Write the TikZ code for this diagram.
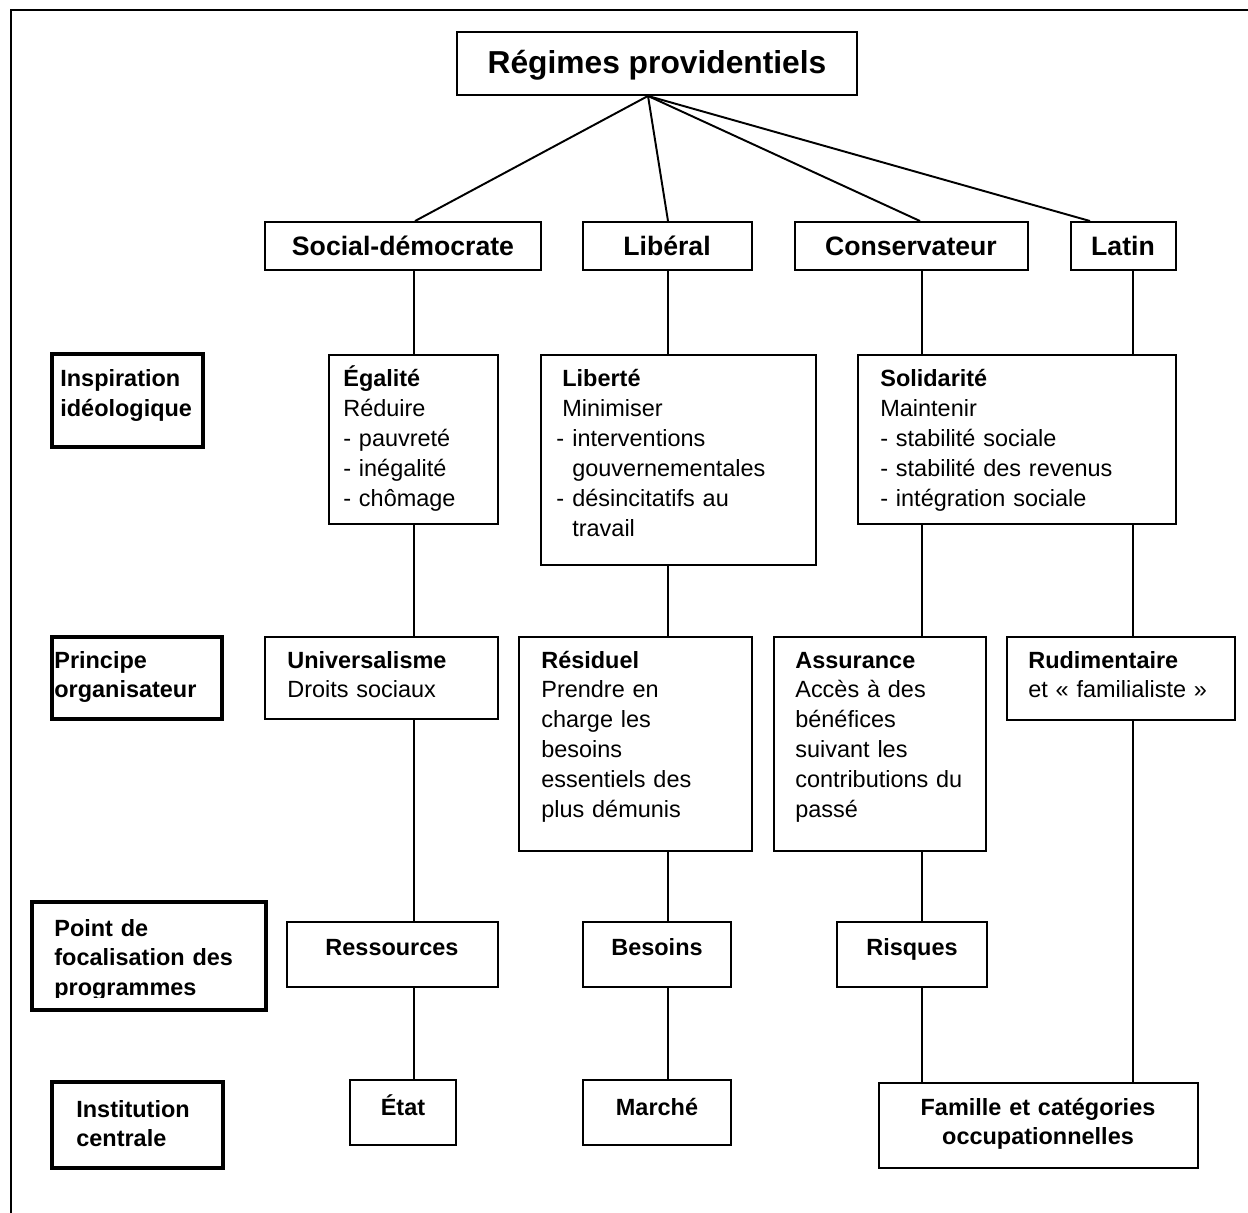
\documentclass[tikz,border=0pt]{standalone}
\usepackage{fontspec}
\setmainfont{Liberation Sans}
\usetikzlibrary{fit}
\newcommand\bodyfs{\fontsize{13.3pt}{17pt}\selectfont}
\begin{document}
\begin{tikzpicture}[x=0.5669pt,y=-0.5669pt,
  box/.style={draw, line width=1.1pt, inner sep=0pt},
  labbox/.style={draw, line width=2.3pt, inner sep=0pt},
  conn/.style={line width=1.1pt},
  one/.style={inner sep=0pt, anchor=base, font=\bodyfs\bfseries},
  head/.style={inner sep=0pt, anchor=base, font=\fontsize{15.1pt}{19pt}\selectfont\bfseries},
  multi/.style={inner sep=0pt, anchor=base west, text width=300pt, align=left, font=\bodyfs},
  labtxt/.style={inner sep=0pt, anchor=base west, text width=200pt, align=left, font=\bodyfs\bfseries}]
\useasboundingbox (0,0) rectangle (1248,1213);
\draw[line width=1.6pt] (11,1213) -- (11,10) -- (1248,10);

% column coordinates
\coordinate (hub) at (648,0);
\coordinate (f1) at (415,0);
\coordinate (f3) at (920,0);
\coordinate (f4) at (1090,0);
\coordinate (c1) at (414,0);
\coordinate (c2) at (668,0);
\coordinate (c3) at (922,0);
\coordinate (c4) at (1133,0);

% title
\node[box, fit={(457,32) (857,95)}] (title) {};
\node[inner sep=0pt, anchor=base, font=\fontsize{18pt}{22pt}\selectfont\bfseries] (title-t) at (657,74) {Régimes providentiels};

% row 1
\node[box, fit={(265,222) (541,270)}] (sd) {};
\node[head] (sd-t) at (403,256) {Social-démocrate};
\node[box, fit={(583,222) (752,270)}] (lib) {};
\node[head] (lib-t) at (667,256) {Libéral};
\node[box, fit={(795,222) (1028,270)}] (cons) {};
\node[head] (cons-t) at (911,256) {Conservateur};
\node[box, fit={(1071,222) (1176,270)}] (lat) {};
\node[head] (lat-t) at (1123,256) {Latin};

% left labels
\node[labbox, fit={(52,354) (203,447)}] (l1) {};
\node[labtxt] (l1-t) at (60,387) {Inspiration\\idéologique};
\node[labbox, fit={(52,637) (222,719)}] (l2) {};
\node[labtxt] (l2-t) at (54,668) {Principe\\organisateur};
\node[labbox, fit={(32,902) (266,1010)}] (l3) {};
\begin{scope}
\clip (32,902) rectangle (266,997);
\node[labtxt] (l3-t) at (54,936) {Point de\\focalisation des\\programmes};
\end{scope}
\node[labbox, fit={(52,1082) (223,1168)}] (l4) {};
\node[labtxt] (l4-t) at (76,1117) {Institution\\centrale};

% row 2
\node[box, fit={(329,355) (498,524)}] (ega) {};
\node[multi] (ega-t) at (343,387) {\textbf{Égalité}\\Réduire\\- pauvreté\\- inégalité\\- chômage};
\node[box, fit={(541,355) (816,565)}] (libt) {};
\node[multi] (libt-t) at (562,387) {\textbf{Liberté}\\Minimiser\\\hspace*{-3.4pt}\makebox[9.07pt][l]{-}interventions\\\hspace*{5.67pt}gouvernementales\\\hspace*{-3.4pt}\makebox[9.07pt][l]{-}désincitatifs au\\\hspace*{5.67pt}travail};
\node[box, fit={(858,355) (1176,524)}] (sol) {};
\node[multi] (sol-t) at (880,387) {\textbf{Solidarité}\\Maintenir\\- stabilité sociale\\- stabilité des revenus\\- intégration sociale};

% row 3
\node[box, fit={(265,637) (498,719)}] (univ) {};
\node[multi] (univ-t) at (287,668) {\textbf{Universalisme}\\Droits sociaux};
\node[box, fit={(519,637) (752,851)}] (resid) {};
\node[multi] (resid-t) at (541,668) {\textbf{Résiduel}\\Prendre en\\charge les\\besoins\\essentiels des\\plus démunis};
\node[box, fit={(774,637) (986,851)}] (assur) {};
\node[multi] (assur-t) at (795,668) {\textbf{Assurance}\\Accès à des\\bénéfices\\suivant les\\contributions du\\passé};
\node[box, fit={(1007,637) (1235,720)}] (rudi) {};
\node[multi] (rudi-t) at (1028,668) {\textbf{Rudimentaire}\\et «~familialiste~»};

% row 4
\node[box, fit={(287,922) (498,987)}] (ress) {};
\node[one] (ress-t) at (392,955) {Ressources};
\node[box, fit={(583,922) (731,987)}] (bes) {};
\node[one] (bes-t) at (657,955) {Besoins};
\node[box, fit={(837,922) (987,987)}] (risq) {};
\node[one] (risq-t) at (912,955) {Risques};

% row 5
\node[box, fit={(350,1080) (456,1145)}] (etat) {};
\node[one] (etat-t) at (403,1115) {État};
\node[box, fit={(583,1080) (731,1145)}] (march) {};
\node[one] (march-t) at (657,1115) {Marché};
\node[box, fit={(879,1083) (1198,1168)}] (fam) {};
\node[inner sep=0pt, anchor=base, text width=200pt, align=center, font=\bodyfs\bfseries] (fam-t) at (1038,1115) {Famille et catégories\\occupationnelles};

% connectors
\draw[conn] (title.south -| hub) -- (sd.north -| f1);
\draw[conn] (title.south -| hub) -- (lib.north -| c2);
\draw[conn] (title.south -| hub) -- (cons.north -| f3);
\draw[conn] (title.south -| hub) -- (lat.north -| f4);

\draw[conn] (sd.south -| c1) -- (ega.north -| c1);
\draw[conn] (lib.south -| c2) -- (libt.north -| c2);
\draw[conn] (cons.south -| c3) -- (sol.north -| c3);
\draw[conn] (lat.south -| c4) -- (sol.north -| c4);

\draw[conn] (ega.south -| c1) -- (univ.north -| c1);
\draw[conn] (libt.south -| c2) -- (resid.north -| c2);
\draw[conn] (sol.south -| c3) -- (assur.north -| c3);
\draw[conn] (sol.south -| c4) -- (rudi.north -| c4);

\draw[conn] (univ.south -| c1) -- (ress.north -| c1);
\draw[conn] (resid.south -| c2) -- (bes.north -| c2);
\draw[conn] (assur.south -| c3) -- (risq.north -| c3);
\draw[conn] (rudi.south -| c4) -- (fam.north -| c4);

\draw[conn] (ress.south -| c1) -- (etat.north -| c1);
\draw[conn] (bes.south -| c2) -- (march.north -| c2);
\draw[conn] (risq.south -| c3) -- (fam.north -| c3);
\end{tikzpicture}
\end{document}
